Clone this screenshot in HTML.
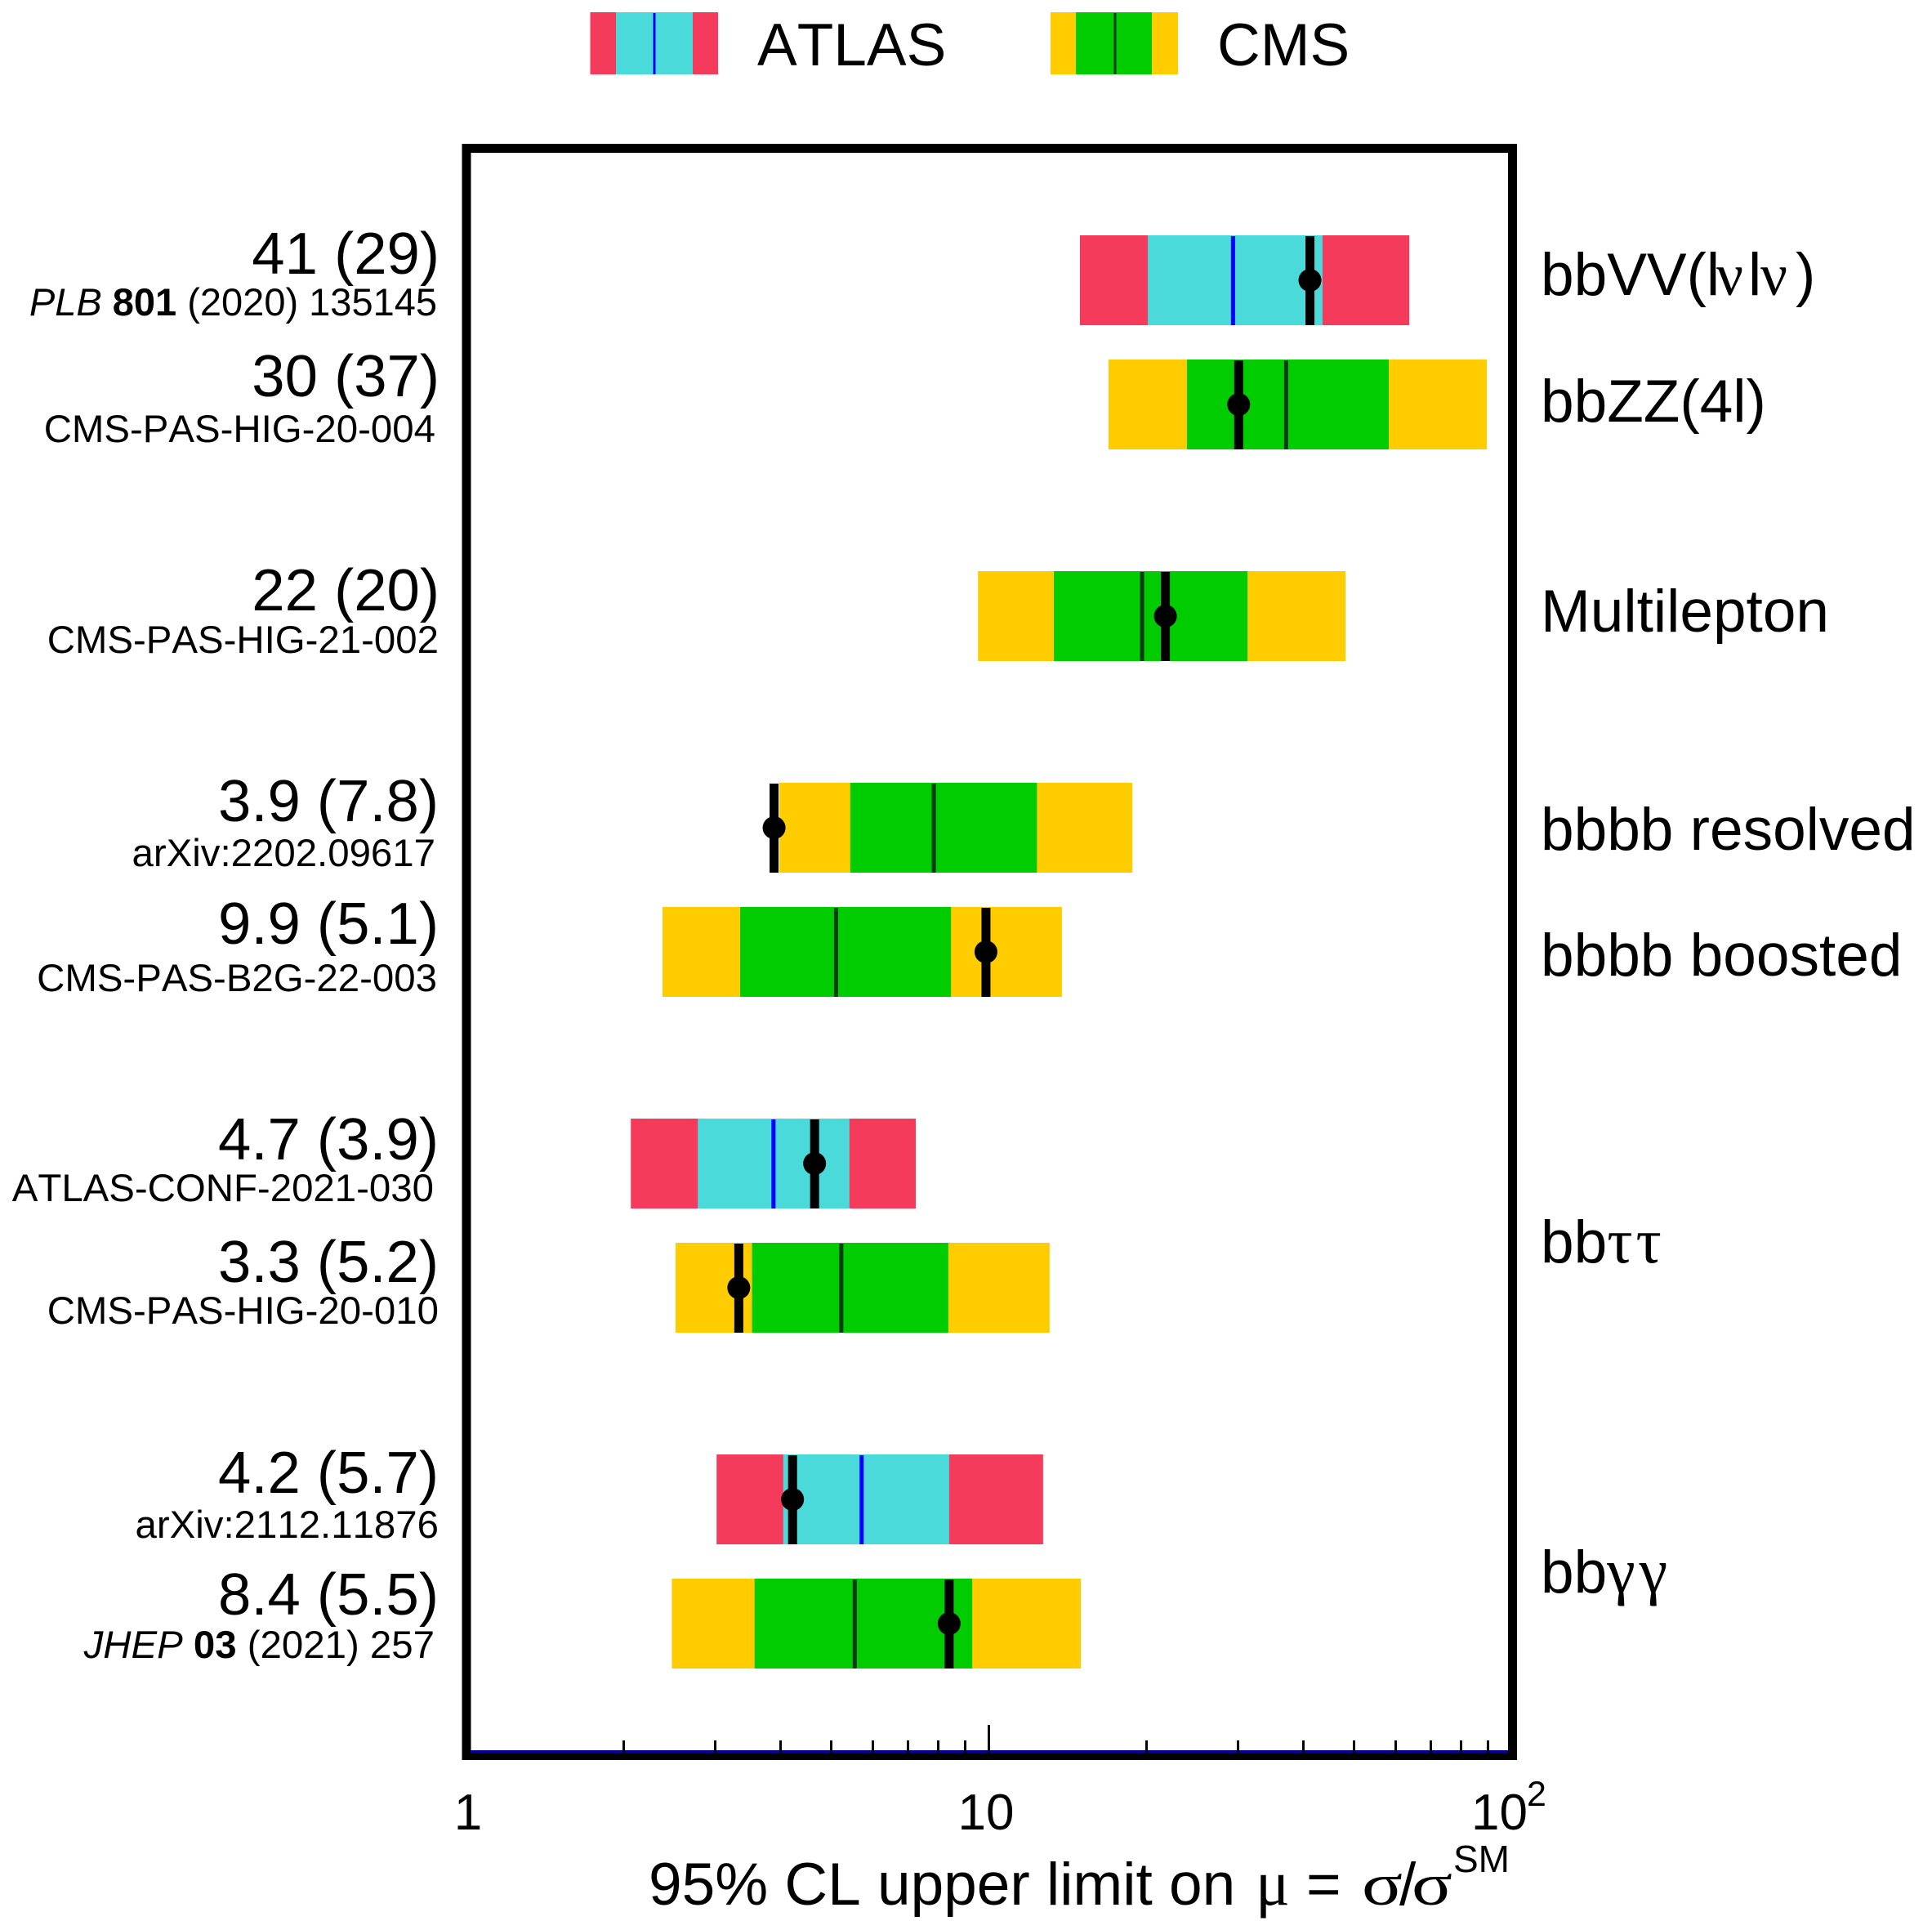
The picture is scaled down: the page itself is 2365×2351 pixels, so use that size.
<!DOCTYPE html>
<html lang="en">
<head>
<meta charset="utf-8">
<title>HH 95% CL upper limits</title>
<style>
  html,body{margin:0;padding:0;background:#fff;}
  svg{display:block;}
  text{font-family:"Liberation Sans",sans-serif;fill:#000;font-kerning:none;}
  .greek{font-family:"Liberation Serif",serif;}
  .val{font-size:72.5px;text-anchor:end;}
  .ref{font-size:47.4px;text-anchor:end;}
  .chan{font-size:73px;}
</style>
</head>
<body>
<svg id="chart" xmlns="http://www.w3.org/2000/svg" width="2365" height="2351" viewBox="0 0 2365 2351">
  <rect x="0" y="0" width="2365" height="2351" fill="#fff"/>

  <g>
    <g>
      <rect x="722.5" y="15" width="156.5" height="76" fill="#f53b5b"/>
      <rect x="754" y="15" width="94" height="76" fill="#4bdada"/>
      <rect x="799.5" y="16" width="3" height="75" fill="#0000ff"/>
      <text x="927" y="80" font-size="73">ATLAS</text>
    </g>
    <g>
      <rect x="1286" y="15" width="156" height="76" fill="#ffcc00"/>
      <rect x="1317" y="15" width="93" height="76" fill="#00cc00"/>
      <rect x="1363.5" y="16" width="3" height="75" fill="#003c1a"/>
      <text x="1490" y="80" font-size="73">CMS</text>
    </g>
  </g>

  <rect x="571" y="181.5" width="1280.5" height="1967" fill="#fff" stroke="#000" stroke-width="11"/>
  <g id="marks"></g>
  <g id="axis"></g>

  <g>
    <text class="val" x="538" y="335">41 (29)</text>
    <text class="ref" style="font-size:47px" x="535" y="386"><tspan font-style="italic">PLB</tspan> <tspan font-weight="bold">801</tspan> (2020) 135145</text>
    <text class="val" x="538" y="485">30 (37)</text>
    <text class="ref" x="533" y="541">CMS-PAS-HIG-20-004</text>
    <text class="val" x="538" y="747">22 (20)</text>
    <text class="ref" x="537" y="799">CMS-PAS-HIG-21-002</text>
    <text class="val" x="537" y="1005">3.9 (7.8)</text>
    <text class="ref" x="533" y="1060">arXiv:2202.09617</text>
    <text class="val" x="537" y="1155">9.9 (5.1)</text>
    <text class="ref" x="535" y="1213">CMS-PAS-B2G-22-003</text>
    <text class="val" x="537" y="1419">4.7 (3.9)</text>
    <text class="ref" x="531" y="1470">ATLAS-CONF-2021-030</text>
    <text class="val" x="537" y="1569">3.3 (5.2)</text>
    <text class="ref" x="537" y="1620">CMS-PAS-HIG-20-010</text>
    <text class="val" x="537" y="1827">4.2 (5.7)</text>
    <text class="ref" x="537" y="1882">arXiv:2112.11876</text>
    <text class="val" x="537" y="1976">8.4 (5.5)</text>
    <text class="ref" x="532" y="2029"><tspan font-style="italic">JHEP</tspan> <tspan font-weight="bold">03</tspan> (2021) 257</text>
  </g>

  <g>
    <text class="chan" x="1886" y="361">bbVV(l<tspan class="greek" x="2101">ν</tspan><tspan x="2140">l</tspan><tspan class="greek" x="2155">ν</tspan><tspan x="2198">)</tspan></text>
    <text class="chan" x="1886" y="516">bbZZ(4l)</text>
    <text class="chan" x="1886" y="773">Multilepton</text>
    <text class="chan" x="1886" y="1040">bbbb resolved</text>
    <text class="chan" x="1886" y="1194">bbbb boosted</text>
    <text class="chan" x="1886" y="1545">bb<tspan class="greek" font-size="78" style="letter-spacing:4px">ττ</tspan></text>
    <text class="chan" x="1886" y="1949">bb<tspan class="greek" font-size="78" style="letter-spacing:5px">γγ</tspan></text>
  </g>

  <g>
    <text x="573" y="2239" font-size="62" text-anchor="middle">1</text>
    <text x="1207" y="2239" font-size="62" text-anchor="middle">10</text>
    <text x="1801" y="2239" font-size="62">10</text>
    <text x="1869" y="2210" font-size="43">2</text>
  </g>
  <g>
    <text x="794" y="2331" font-size="73">95% CL upper limit on</text>
    <text class="greek" x="1537" y="2331" font-size="78">μ</text>
    <text x="1599" y="2331" font-size="73">=</text>
    <text class="greek" x="1667" y="2331" font-size="73" textLength="50" lengthAdjust="spacingAndGlyphs">σ</text>
    <text x="1713" y="2331" font-size="73">/</text>
    <text class="greek" x="1728" y="2331" font-size="73" textLength="50" lengthAdjust="spacingAndGlyphs">σ</text>
    <text x="1779" y="2291" font-size="46">SM</text>
  </g>
</svg>

<script>
// Chart data
const categories = ["bbVV(lvlv)", "bbZZ(4l)", "Multilepton", "bbbb resolved", "bbbb boosted", "bbtautau ATLAS", "bbtautau CMS", "bbgammagamma ATLAS", "bbgammagamma CMS"];
const experiments = ["ATLAS", "CMS", "CMS", "CMS", "CMS", "ATLAS", "CMS", "ATLAS", "CMS"];
const rowSlots = [0, 1, 2.7, 4.4, 5.4, 7.1, 8.1, 9.8, 10.8];
const observed = [41.2, 30.1, 21.8, 3.89, 9.89, 4.65, 3.33, 4.22, 8.41];
const expected = [29.36, 37.1, 19.67, 7.86, 5.11, 3.88, 5.23, 5.72, 5.55];
const minus2Sigma = [14.96, 16.97, 9.55, 3.98, 2.38, 2.07, 2.52, 3.02, 2.48];
const minus1Sigma = [20.17, 23.97, 13.34, 5.44, 3.35, 2.78, 3.53, 4.05, 3.57];
const plus1Sigma = [43.55, 58.3, 31.3, 12.38, 8.48, 5.42, 8.38, 8.41, 9.31];
const plus2Sigma = [63.8, 89.8, 48.2, 18.85, 13.82, 7.26, 13.09, 12.72, 15.02];
const majorTicks = [10];
const minorTicks = [2, 3, 4, 5, 6, 7, 8, 9, 20, 30, 40, 50, 60, 70, 80, 90];

const SVG_NS = "http://www.w3.org/2000/svg";
const AXIS_X0 = 570, DECADE = 640;
const ROW_Y0 = 343, ROW_STEP = 152.2, BAR_H = 110;
const AXIS_BOTTOM = 2146;

function xScale(v) { return AXIS_X0 + Math.log10(v) * DECADE; }
function yScale(slot) { return ROW_Y0 + slot * ROW_STEP; }

function makeRect(parent, x, y, w, h, fill) {
  const el = document.createElementNS(SVG_NS, "rect");
  el.setAttribute("x", x);
  el.setAttribute("y", y);
  el.setAttribute("width", w);
  el.setAttribute("height", h);
  el.setAttribute("fill", fill);
  parent.appendChild(el);
  return el;
}

function slug(s) { return s.toLowerCase().replace(/[^a-z0-9]+/g, "-").replace(/^-|-$/g, ""); }

const marks = document.getElementById("marks");
const axis = document.getElementById("axis");

const baseline = makeRect(axis, 576, 2142, 1270, 4, "#000099");



majorTicks.forEach(function (t) {
  const tick = makeRect(axis, Math.round(xScale(t)) - 1, 2111, 3, AXIS_BOTTOM - 2111, "#000");
  
  
});
minorTicks.forEach(function (t) {
  const tick = makeRect(axis, Math.round(xScale(t)) - 1, 2130, 3, AXIS_BOTTOM - 2130, "#000");
  
  
});

categories.forEach(function (cat, i) {
  const isAtlas = experiments[i] === "ATLAS";
  const key = slug(cat);
  const cy = yScale(rowSlots[i]);
  const top = Math.round(cy - BAR_H / 2);

  const g = document.createElementNS(SVG_NS, "g");
  
  
  marks.appendChild(g);

  const outer = makeRect(g, xScale(minus2Sigma[i]), top, xScale(plus2Sigma[i]) - xScale(minus2Sigma[i]), BAR_H, isAtlas ? "#f53b5b" : "#ffcc00");
  
  

  const inner = makeRect(g, xScale(minus1Sigma[i]), top, xScale(plus1Sigma[i]) - xScale(minus1Sigma[i]), BAR_H, isAtlas ? "#4bdada" : "#00cc00");
  
  

  const exp = makeRect(g, xScale(expected[i]) - 2.5, top + 1, 5, BAR_H - 1, isAtlas ? "#0000ff" : "#003c1a");
  
  

  const obs = makeRect(g, xScale(observed[i]) - 5.5, top + 1, 11, BAR_H - 1, "#000");
  
  

  const dot = document.createElementNS(SVG_NS, "circle");
  dot.setAttribute("cx", xScale(observed[i]));
  dot.setAttribute("cy", top + BAR_H / 2);
  dot.setAttribute("r", 14);
  dot.setAttribute("fill", "#000");
  
  
  g.appendChild(dot);
});
</script>
</body>
</html>
